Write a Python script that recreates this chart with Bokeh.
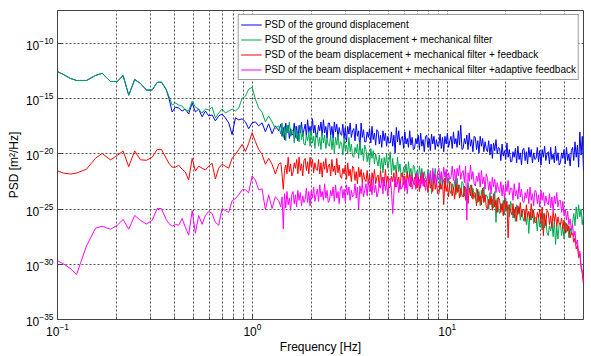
import numpy as np
from bokeh.plotting import figure
from bokeh.models import FixedTicker, Legend, LegendItem
from bokeh.embed import file_html
from bokeh.resources import INLINE

# ---- data (log10 of PSD in m^2/Hz) ----
freq_low_hz = [0.100, 0.1073, 0.1166, 0.1252, 0.1408, 0.1566, 0.1695, 0.187, 0.2024, 0.2172,
               0.232, 0.249, 0.2665, 0.286, 0.306, 0.3245, 0.3415, 0.361, 0.373, 0.3876,
               0.403, 0.419, 0.436, 0.453, 0.471, 0.491, 0.510, 0.530, 0.552, 0.574,
               0.597, 0.621, 0.646, 0.672, 0.699, 0.727, 0.756, 0.787, 0.818, 0.851,
               0.886, 0.921, 0.957, 0.997, 1.036, 1.077, 1.121, 1.166, 1.212, 1.262,
               1.312, 1.364]

ground_low = [-12.54, -12.80, -13.16, -13.34, -13.34, -12.89, -12.69, -13.43, -13.43, -12.89,
              -14.68, -13.25, -13.61, -14.21, -14.21, -13.52, -13.49, -14.14, -14.95, -16.20,
              -15.75, -15.84, -16.11, -15.93, -16.38, -15.39, -16.20, -15.93, -16.64, -16.11,
              -16.55, -16.46, -17.00, -16.55, -16.38, -16.73, -17.18, -18.25, -16.73, -16.91,
              -16.82, -17.09, -17.71, -17.18, -17.09, -17.45, -17.18, -17.98, -17.27, -18.16,
              -17.45, -17.89]
mech_low = [-12.54, -12.80, -13.16, -13.34, -13.34, -12.89, -12.69, -13.43, -13.43, -12.89,
            -14.68, -13.25, -13.61, -14.21, -14.21, -13.52, -13.49, -14.14, -14.77, -15.57,
            -15.39, -15.57, -15.66, -16.02, -16.11, -15.21, -15.75, -15.93, -16.29, -15.93,
            -16.02, -15.75, -16.73, -16.29, -15.93, -16.29, -16.11, -15.93, -16.11, -15.84,
            -14.95, -14.77, -14.14, -13.96, -15.04, -15.84, -16.20, -17.09, -16.55, -17.09,
            -17.71, -17.45]
feedback_low = [-21.55, -21.73, -21.82, -21.73, -21.38, -20.39, -19.95, -20.54, -20.13, -19.74,
                -21.15, -19.72, -20.53, -20.57, -20.30, -19.59, -19.59, -20.39, -20.84, -21.20,
                -21.20, -21.02, -21.38, -21.64, -22.36, -20.39, -21.55, -21.11, -21.29, -21.46,
                -21.11, -20.84, -22.27, -21.29, -20.93, -21.11, -21.29, -20.39, -20.04, -19.59,
                -19.14, -19.77, -19.05, -18.07, -18.88, -19.59, -20.04, -20.93, -20.39, -20.93,
                -21.82, -20.93]
adaptive_low = [-29.68, -29.95, -30.39, -30.93, -28.34, -26.73, -26.55, -26.82, -26.46, -25.93,
                -26.82, -25.57, -26.02, -26.35, -26.02, -24.95, -24.95, -25.93, -26.29, -26.55,
                -26.38, -26.46, -25.84, -26.64, -27.36, -25.13, -27.18, -25.57, -26.38, -25.57,
                -25.21, -25.39, -26.20, -26.46, -24.95, -25.13, -25.30, -24.23, -24.05, -23.70,
                -23.25, -23.25, -23.52, -22.00, -22.36, -23.25, -23.16, -25.04, -23.70, -24.95,
                -23.88, -24.23]

ground_dense = [
    -17.3, -18.4, -17.6, -18.7, -17.2, -18.1, -17.4, -18.6, -17.7, -18.3,
    -18.2, -17.2, -18.5, -17.5, -18.8, -17.4, -18.1, -17.1, -18.4, -17.8,
    -17.3, -18.4, -16.9, -18.0, -17.5, -18.3, -16.8, -18.1, -17.4, -18.5,
    -18.3, -17.4, -17.9, -17.1, -18.4, -16.9, -18.1, -17.5, -18.6, -17.2,
    -17.2, -18.3, -17.5, -18.6, -17.1, -18.0, -17.3, -18.5, -17.6, -18.2,
    -18.3, -17.3, -18.6, -17.6, -18.9, -17.5, -18.2, -17.2, -18.5, -17.9,
    -17.7, -18.8, -17.3, -18.4, -17.9, -19.6, -17.2, -18.5, -17.8, -18.9,
    -18.9, -18.0, -18.5, -17.7, -19.0, -17.5, -18.7, -18.1, -19.2, -17.8,
    -18.0, -19.1, -18.3, -19.4, -17.9, -18.8, -18.1, -19.3, -18.4, -19.0,
    -19.0, -18.0, -19.3, -18.3, -19.9, -17.6, -18.9, -17.9, -19.2, -18.6,
    -18.4, -19.5, -18.0, -19.1, -18.6, -19.4, -17.9, -19.2, -18.5, -19.6,
    -19.5, -18.6, -19.1, -18.3, -19.6, -18.1, -19.3, -18.7, -19.8, -18.4,
    -18.3, -19.4, -18.6, -19.7, -18.2, -19.1, -18.4, -19.6, -18.7, -19.3,
    -19.2, -18.2, -19.5, -18.5, -19.8, -18.4, -19.1, -18.1, -19.4, -18.8,
    -18.4, -19.5, -18.0, -19.1, -18.6, -19.4, -17.9, -19.2, -17.4, -19.6,
    -19.5, -18.6, -19.1, -18.3, -19.6, -18.1, -19.3, -18.7, -19.8, -18.4,
    -18.5, -19.6, -18.8, -19.9, -18.4, -19.3, -18.6, -19.8, -18.9, -19.5,
    -19.8, -18.8, -20.1, -19.1, -20.4, -19.0, -19.7, -18.7, -20.0, -19.4,
    -19.5, -20.6, -19.1, -20.2, -19.7, -20.5, -19.0, -20.3, -19.6, -20.7,
    -20.7, -19.8, -20.3, -19.5, -20.8, -19.3, -20.5, -19.9, -21.0, -19.6,
    -19.5, -20.6, -19.8, -20.9, -19.4, -20.3, -19.6, -20.8, -19.9, -20.5,
    -20.4, -19.4, -20.7, -19.7, -21.0, -19.6, -20.3, -19.3, -20.6, -20.0,
    -19.8, -20.9, -19.4, -20.5, -20.0, -20.8, -19.3, -20.6, -19.9, -21.0,
    -20.8, -19.9, -20.4, -19.6, -20.9, -19.4, -20.6, -20.0, -21.1, -19.7,
    -19.4, -20.6, -18.9, -20.3, -19.2, -21.2, -18.0, -20.1, -18.4, -21.5,
]
mech_dense = [
    -18.2, -17.2, -18.5, -17.5, -18.8, -17.4, -18.1, -17.1, -18.4, -17.8,
    -17.9, -19.0, -17.5, -18.6, -18.1, -18.9, -17.4, -18.7, -18.0, -19.1,
    -19.2, -18.3, -18.8, -18.0, -19.3, -17.8, -19.0, -18.4, -19.5, -18.1,
    -18.2, -19.3, -18.5, -19.6, -18.1, -19.0, -18.3, -19.5, -18.6, -19.2,
    -19.3, -18.3, -19.6, -18.6, -19.9, -18.5, -19.2, -18.2, -19.5, -18.9,
    -19.0, -20.1, -18.6, -19.7, -19.2, -20.0, -18.5, -19.8, -19.1, -20.2,
    -20.3, -19.4, -19.9, -19.1, -20.4, -18.9, -20.1, -19.5, -20.6, -19.2,
    -19.6, -20.7, -19.9, -21.0, -19.5, -20.4, -19.7, -20.9, -20.0, -20.6,
    -21.1, -20.1, -21.4, -20.4, -21.7, -20.3, -21.0, -20.0, -21.3, -20.7,
    -19.8, -21.9, -20.4, -21.5, -21.0, -21.8, -20.3, -21.6, -20.9, -22.0,
    -22.1, -21.2, -21.7, -20.9, -22.2, -20.7, -21.9, -21.3, -22.4, -21.0,
    -21.2, -22.3, -21.5, -22.6, -21.1, -22.0, -21.3, -22.5, -21.6, -22.2,
    -22.4, -21.4, -22.7, -21.7, -23.6, -21.6, -22.3, -21.3, -22.6, -22.0,
    -22.1, -23.2, -21.7, -22.8, -22.3, -23.1, -21.6, -22.9, -22.2, -23.3,
    -23.6, -22.7, -23.2, -22.4, -23.7, -22.2, -23.4, -22.8, -23.9, -22.5,
    -22.7, -23.8, -23.0, -24.1, -22.6, -23.5, -22.8, -24.0, -23.1, -23.7,
    -24.1, -23.1, -24.4, -23.4, -24.7, -23.3, -24.0, -23.0, -24.3, -23.7,
    -23.9, -25.0, -23.5, -24.6, -24.1, -24.9, -23.4, -26.2, -24.0, -25.1,
    -25.4, -24.5, -25.0, -24.2, -25.5, -24.0, -25.2, -24.6, -25.7, -24.3,
    -24.7, -25.8, -25.0, -26.1, -24.6, -25.5, -24.8, -26.0, -25.1, -25.7,
    -26.1, -25.1, -26.4, -25.4, -27.2, -25.3, -26.0, -25.0, -26.3, -25.7,
    -25.9, -27.0, -25.5, -26.6, -26.1, -26.9, -25.4, -26.7, -26.0, -27.1,
    -27.4, -26.5, -27.0, -26.2, -27.5, -26.0, -28.2, -26.6, -27.7, -26.3,
    -26.3, -27.4, -26.6, -27.7, -26.2, -27.1, -26.4, -27.6, -26.7, -27.3,
    -26.2, -25.4, -26.5, -24.8, -25.9, -24.6, -25.7, -25.0, -26.4, -25.5,
]
feedback_dense = [
    -20.8, -21.9, -23.2, -21.5, -21.0, -21.8, -20.3, -21.6, -20.9, -22.0,
    -21.7, -20.8, -21.3, -20.5, -21.8, -20.3, -21.5, -20.9, -22.0, -20.6,
    -20.4, -21.5, -20.7, -21.8, -20.3, -21.2, -20.5, -21.7, -20.8, -21.4,
    -21.5, -20.5, -21.8, -20.8, -22.1, -20.7, -21.4, -20.4, -21.7, -21.1,
    -20.9, -22.0, -20.5, -21.6, -21.1, -21.9, -20.4, -21.7, -21.0, -22.1,
    -22.2, -21.3, -21.8, -21.0, -22.3, -20.8, -22.0, -21.4, -22.5, -21.1,
    -21.3, -22.4, -21.6, -22.7, -21.2, -22.1, -21.4, -22.6, -21.7, -22.3,
    -22.5, -21.5, -22.8, -21.8, -23.4, -21.7, -22.4, -21.4, -22.7, -22.1,
    -21.9, -23.0, -21.5, -22.6, -22.1, -22.9, -21.4, -22.7, -22.0, -23.1,
    -22.9, -22.0, -22.5, -21.7, -23.0, -21.5, -22.7, -22.1, -23.2, -21.8,
    -21.7, -22.8, -22.0, -23.1, -21.6, -22.5, -21.8, -23.0, -22.1, -22.7,
    -22.8, -21.8, -23.1, -22.1, -23.4, -22.0, -22.7, -21.7, -23.0, -22.4,
    -22.4, -23.5, -22.0, -23.1, -22.6, -23.4, -21.9, -23.2, -22.5, -23.6,
    -23.6, -22.7, -23.2, -22.4, -24.6, -22.2, -23.4, -22.8, -23.9, -22.5,
    -22.7, -23.8, -23.0, -24.1, -22.6, -23.5, -22.8, -24.0, -23.1, -23.7,
    -23.9, -22.9, -24.2, -23.2, -24.5, -23.1, -23.8, -22.8, -24.1, -23.5,
    -23.6, -24.7, -23.2, -24.3, -23.8, -24.6, -23.1, -24.4, -23.7, -24.8,
    -25.0, -24.1, -24.6, -23.8, -25.1, -23.6, -24.8, -24.2, -25.3, -23.9,
    -24.2, -25.3, -24.5, -25.6, -24.1, -25.0, -24.3, -27.6, -24.6, -25.2,
    -25.5, -24.5, -25.8, -24.8, -26.1, -24.7, -25.4, -24.4, -25.7, -25.1,
    -25.0, -26.1, -24.6, -25.7, -25.2, -26.0, -24.5, -25.8, -25.1, -26.2,
    -26.2, -25.3, -25.8, -25.0, -26.3, -24.8, -27.4, -25.4, -26.5, -25.1,
    -25.3, -26.4, -25.6, -26.7, -25.2, -26.1, -25.4, -26.6, -25.7, -26.3,
    -26.4, -25.8, -26.8, -26.0, -27.2, -26.3, -27.0, -26.5, -27.6, -27.1,
    -27.2, -28.0, -27.6, -28.6, -28.3, -29.4, -29.0, -30.3, -30.8, -31.8,
]
adaptive_dense = [
    -24.8, -23.9, -26.8, -23.6, -24.9, -23.4, -24.6, -24.0, -25.1, -23.7,
    -23.4, -24.5, -23.7, -24.8, -23.3, -24.2, -23.5, -24.7, -23.8, -24.4,
    -24.1, -23.1, -24.4, -23.4, -24.7, -23.3, -24.0, -23.0, -24.3, -23.7,
    -23.2, -24.3, -22.8, -23.9, -23.4, -24.2, -22.7, -24.0, -23.3, -24.4,
    -24.2, -23.3, -23.8, -23.0, -24.3, -22.8, -24.0, -23.4, -24.5, -23.1,
    -22.9, -24.0, -23.2, -24.3, -22.8, -23.7, -23.0, -24.2, -23.3, -23.9,
    -23.7, -22.7, -24.0, -23.0, -25.0, -22.9, -23.6, -22.6, -23.9, -23.3,
    -22.7, -23.8, -22.3, -23.4, -22.9, -23.7, -22.2, -23.5, -22.8, -23.9,
    -23.5, -22.6, -23.1, -22.3, -23.6, -22.1, -23.3, -22.7, -23.8, -22.4,
    -22.2, -23.3, -25.4, -23.6, -22.1, -23.0, -22.3, -23.5, -22.6, -23.2,
    -23.0, -22.0, -23.3, -22.3, -23.6, -22.2, -22.9, -21.9, -23.2, -22.6,
    -22.1, -23.2, -21.7, -22.8, -22.3, -23.1, -21.6, -22.9, -22.2, -23.3,
    -22.7, -21.8, -22.3, -21.5, -22.8, -21.3, -22.5, -21.9, -23.0, -21.6,
    -21.3, -22.4, -21.6, -22.7, -21.2, -22.1, -21.4, -22.6, -21.7, -22.3,
    -22.1, -21.1, -22.4, -21.4, -22.7, -21.3, -22.0, -21.0, -22.3, -21.7,
    -21.5, -22.6, -21.1, -26.0, -21.7, -22.5, -21.0, -22.3, -21.6, -22.7,
    -22.9, -22.0, -22.5, -21.7, -23.0, -21.5, -22.7, -22.1, -23.2, -21.8,
    -22.2, -23.3, -22.5, -23.6, -22.1, -23.0, -22.3, -23.5, -22.6, -23.2,
    -23.5, -22.5, -23.8, -22.8, -24.1, -22.7, -23.4, -22.4, -23.7, -23.1,
    -23.1, -24.2, -22.7, -23.8, -23.3, -24.1, -22.6, -23.9, -23.2, -24.3,
    -24.4, -23.5, -24.0, -23.2, -24.5, -23.0, -24.2, -23.6, -24.7, -23.3,
    -23.4, -24.5, -23.7, -24.8, -23.3, -24.2, -23.5, -24.7, -23.8, -24.4,
    -24.6, -23.6, -24.9, -23.9, -25.2, -23.8, -24.5, -23.5, -24.8, -24.2,
    -24.2, -25.3, -24.3, -25.6, -25.0, -26.0, -25.2, -26.4, -25.9, -26.9,
    -26.4, -27.5, -27.0, -28.2, -27.8, -29.0, -28.8, -30.1, -30.6, -31.6,
]

legend_labels = [
    "PSD of the ground displacement",
    "PSD of the ground displacement + mechanical filter",
    "PSD of the beam displacement + mechanical filter + feedback",
    "PSD of the beam displacement + mechanical filter +adaptive feedback",
]
colors = ["#0000FF", "#00A850", "#FF0000", "#FF00FF"]

x_major = [0.1, 1, 10]
x_minor = [0.2, 0.3, 0.4, 0.5, 0.6, 0.7, 0.8, 0.9,
           2, 3, 4, 5, 6, 7, 8, 9, 20, 30, 40]
y_major = [1e-35, 1e-30, 1e-25, 1e-20, 1e-15, 1e-10]


def series(low, dense):
    f_dense = np.geomspace(1.40, 50.0, len(dense))
    f = np.concatenate([np.array(freq_low_hz), f_dense])
    v = np.power(10.0, np.concatenate([np.array(low), np.array(dense)]))
    return f, v


p = figure(width=591, height=356, x_axis_type="log", y_axis_type="log",
           x_range=(0.1, 50), y_range=(1e-35, 1e-7),
           output_backend="svg", toolbar_location=None,
           min_border_left=57, min_border_right=8, min_border_top=10,
           min_border_bottom=32)

p.background_fill_color = "white"
p.border_fill_color = "white"
p.outline_line_color = "#444444"
p.outline_line_width = 1

items = []
for (low, dense), col, lab in zip(
        [(ground_low, ground_dense), (mech_low, mech_dense),
         (feedback_low, feedback_dense), (adaptive_low, adaptive_dense)],
        colors, legend_labels):
    f, v = series(low, dense)
    r = p.line(f, v, line_color=col, line_width=1)
    items.append(LegendItem(label=lab, renderers=[r]))

p.xaxis.ticker = FixedTicker(ticks=x_major, minor_ticks=x_minor)
p.yaxis.ticker = FixedTicker(ticks=y_major, minor_ticks=[])

for ax in (p.xaxis, p.yaxis):
    ax.axis_line_color = "#444444"
    ax.major_tick_in = 5
    ax.major_tick_out = 0
    ax.minor_tick_in = 3
    ax.minor_tick_out = 0
    ax.major_tick_line_color = "#444444"
    ax.minor_tick_line_color = "#444444"
    ax.major_label_text_font = "Liberation Sans"
    ax.major_label_text_font_size = "12px"
    ax.major_label_text_color = "black"
    ax.axis_label_text_font = "Liberation Sans"
    ax.axis_label_text_font_size = "12px"
    ax.axis_label_text_font_style = "normal"
    ax.axis_label_text_color = "black"

p.yaxis.minor_tick_line_color = None
p.xaxis.axis_label = "Frequency [Hz]"
p.yaxis.axis_label = "PSD [m\u00b2/Hz]"
p.xaxis.axis_label_standoff = 1
p.yaxis.axis_label_standoff = 2
p.xaxis.major_label_standoff = 3
p.yaxis.major_label_standoff = 4

p.xgrid.grid_line_color = "#555555"
p.xgrid.grid_line_dash = "2 2"
p.xgrid.grid_line_alpha = 1.0
p.xgrid.minor_grid_line_color = "#555555"
p.xgrid.minor_grid_line_dash = "2 2"
p.ygrid.grid_line_color = "#555555"
p.ygrid.grid_line_dash = "2 2"
p.ygrid.minor_grid_line_color = None

legend = Legend(items=items, location="top_right")
legend.label_text_font = "Liberation Sans"
legend.label_text_font_size = "10px"
legend.label_text_color = "black"
legend.label_height = 15
legend.glyph_height = 15
legend.glyph_width = 21
legend.spacing = 0
legend.padding = 2
legend.margin = 4
legend.label_standoff = 3
legend.border_line_color = "#333333"
legend.background_fill_color = "white"
legend.background_fill_alpha = 1.0
p.add_layout(legend)

open("out.html", "w").write(file_html(p, INLINE))
